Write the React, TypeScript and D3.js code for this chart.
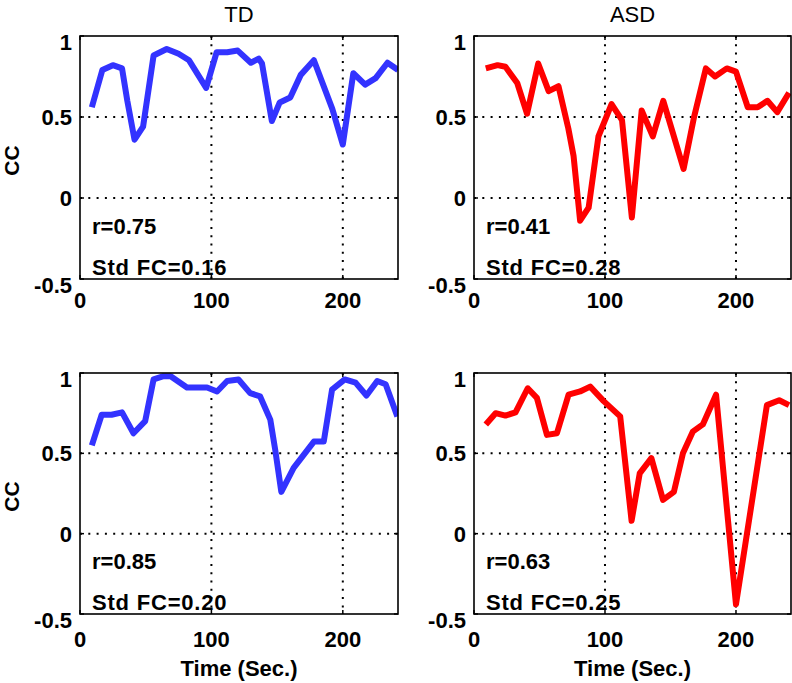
import React from "react";
import * as d3 from "d3";

// ---- data ----
const tdTopTime = [9, 17, 25, 32, 36, 41.5, 48, 56, 66, 75, 83, 96, 104, 112, 120, 130, 136, 138.5, 146, 152, 160, 168, 178, 192, 200, 208, 217, 225, 234, 242];
const tdTopCC = [0.56, 0.79, 0.82, 0.8, 0.6, 0.36, 0.44, 0.88, 0.92, 0.89, 0.85, 0.68, 0.9, 0.9, 0.91, 0.835, 0.86, 0.83, 0.475, 0.59, 0.62, 0.76, 0.85, 0.55, 0.33, 0.77, 0.7, 0.74, 0.835, 0.79];

const asdTopTime = [9, 18, 24, 33, 40.5, 49, 57, 64.5, 72, 76, 81, 87.5, 95, 105, 113, 120.5, 128, 136.5, 144.5, 160, 168, 177, 184, 193, 200, 209, 216.5, 224, 231.5, 240.5];
const asdTopCC = [0.8, 0.82, 0.81, 0.71, 0.52, 0.83, 0.66, 0.69, 0.43, 0.26, -0.14, -0.06, 0.38, 0.58, 0.48, -0.12, 0.54, 0.38, 0.6, 0.18, 0.5, 0.8, 0.75, 0.8, 0.78, 0.56, 0.56, 0.6, 0.53, 0.65];

const tdBottomTime = [9, 16.5, 24, 32, 40.7, 49.6, 56, 63.6, 69, 81.4, 96.7, 104.3, 112, 120.6, 129.5, 137, 144.8, 148.6, 153.2, 162.6, 178, 185.5, 191.8, 201.5, 209.7, 218, 226.2, 232.6, 241.5];
const tdBottomCC = [0.55, 0.74, 0.74, 0.755, 0.625, 0.7, 0.96, 0.98, 0.98, 0.91, 0.91, 0.885, 0.95, 0.96, 0.875, 0.855, 0.71, 0.52, 0.26, 0.41, 0.573, 0.573, 0.896, 0.96, 0.94, 0.86, 0.95, 0.93, 0.73];

const asdBottomTime = [9, 16.5, 24, 31.7, 41, 48, 55.7, 63.3, 72.2, 81, 88.7, 99, 111.6, 120.3, 126.5, 135.4, 144.3, 152.6, 159.5, 167, 174.7, 184.8, 200, 223.6, 233, 240.5];
const asdBottomCC = [0.68, 0.75, 0.735, 0.755, 0.905, 0.845, 0.615, 0.625, 0.865, 0.885, 0.915, 0.825, 0.73, 0.08, 0.375, 0.47, 0.21, 0.26, 0.5, 0.635, 0.68, 0.865, -0.44, 0.8, 0.83, 0.8];

const columnTitles = ["TD", "ASD"];
const rValues = ["r=0.75", "r=0.41", "r=0.85", "r=0.63"];
const stdValues = ["Std FC=0.16", "Std FC=0.28", "Std FC=0.20", "Std FC=0.25"];
const xTicks = [0, 100, 200];
const xTickLabels = ["0", "100", "200"];
const yTicks = [-0.5, 0, 0.5, 1];
const yTickLabels = ["-0.5", "0", "0.5", "1"];
const xGrid = [100, 200];
const yGrid = [0, 0.5];
const xDomain = [0, 242];
const yDomain = [-0.5, 1];
const yLabel = "CC";
const xLabel = "Time (Sec.)";

const BLUE = "#3333ff";
const RED = "#ff0000";
const FONT = "'Liberation Sans', Arial, Helvetica, sans-serif";

const columns = [
  { left: 80, right: 398 },
  { left: 474, right: 791 },
];
const rows = [
  { top: 36, bottom: 279, xLabelOffset: 29 },
  { top: 373, bottom: 614, xLabelOffset: 33 },
];

const panels = [
  { row: 0, col: 0, t: tdTopTime, v: tdTopCC, color: BLUE, r: rValues[0], std: stdValues[0] },
  { row: 0, col: 1, t: asdTopTime, v: asdTopCC, color: RED, r: rValues[1], std: stdValues[1] },
  { row: 1, col: 0, t: tdBottomTime, v: tdBottomCC, color: BLUE, r: rValues[2], std: stdValues[2] },
  { row: 1, col: 1, t: asdBottomTime, v: asdBottomCC, color: RED, r: rValues[3], std: stdValues[3] },
];

function Panel({ p, idx }: { p: any; idx: number }) {
  const c = columns[p.col];
  const rw = rows[p.row];
  const x = d3.scaleLinear().domain(xDomain).range([c.left, c.right]);
  const y = d3.scaleLinear().domain(yDomain).range([rw.bottom, rw.top]);
  const pts = p.t.map((t: number, i: number) => [t, p.v[i]] as [number, number]);
  const line = d3
    .line<[number, number]>()
    .x((d) => x(d[0]))
    .y((d) => y(d[1]));
  const clipId = `clip-${idx}`;
  const tickLen = 4;
  return (
    <g>
      <defs>
        <clipPath id={clipId}>
          <rect x={c.left} y={rw.top} width={c.right - c.left} height={rw.bottom - rw.top} />
        </clipPath>
      </defs>
      {/* grid */}
      {xGrid.map((g) => (
        <line key={"gx" + g} x1={x(g)} x2={x(g)} y1={rw.top} y2={rw.bottom} stroke="#000" strokeWidth={2} strokeDasharray="2 6.3" />
      ))}
      {yGrid.map((g) => (
        <line key={"gy" + g} x1={c.left} x2={c.right} y1={y(g)} y2={y(g)} stroke="#000" strokeWidth={2} strokeDasharray="2 6.3" />
      ))}
      {/* ticks */}
      {xTicks.map((t) => (
        <g key={"xt" + t}>
          <line x1={x(t)} x2={x(t)} y1={rw.bottom} y2={rw.bottom - tickLen} stroke="#000" strokeWidth={1.5} />
          <line x1={x(t)} x2={x(t)} y1={rw.top} y2={rw.top + tickLen} stroke="#000" strokeWidth={1.5} />
        </g>
      ))}
      {yTicks.map((t) => (
        <g key={"yt" + t}>
          <line x1={c.left} x2={c.left + tickLen} y1={y(t)} y2={y(t)} stroke="#000" strokeWidth={1.5} />
          <line x1={c.right} x2={c.right - tickLen} y1={y(t)} y2={y(t)} stroke="#000" strokeWidth={1.5} />
        </g>
      ))}
      {/* data line */}
      <path
        d={line(pts) || ""}
        fill="none"
        stroke={p.color}
        strokeWidth={6}
        strokeLinejoin="round"
        strokeLinecap="butt"
        clipPath={`url(#${clipId})`}
      />
      {/* frame */}
      <rect x={c.left} y={rw.top} width={c.right - c.left} height={rw.bottom - rw.top} fill="none" stroke="#000" strokeWidth={1.6} />
      {/* tick labels */}
      {xTicks.map((t, i) => (
        <text key={"xl" + t} x={x(t)} y={rw.bottom + rw.xLabelOffset} textAnchor="middle" fontSize={22} fontWeight="bold" fontFamily={FONT}>
          {xTickLabels[i]}
        </text>
      ))}
      {yTicks.map((t, i) => {
        const nudge = i === 0 || i === yTicks.length - 1 ? 6 : 0;
        return (
          <text key={"yl" + t} x={c.left - 8} y={y(t) + nudge + 8} textAnchor="end" fontSize={22} fontWeight="bold" fontFamily={FONT}>
            {yTickLabels[i]}
          </text>
        );
      })}
      {/* annotations */}
      <text x={c.left + 12} y={rw.bottom - 45} fontSize={22} fontWeight="bold" fontFamily={FONT}>
        {p.r}
      </text>
      <text x={c.left + 12} y={rw.bottom - 4} fontSize={22} fontWeight="bold" fontFamily={FONT} letterSpacing={0.8}>
        {p.std}
      </text>
      {/* column title (top row) */}
      {p.row === 0 && (
        <text x={(c.left + c.right) / 2} y={22} textAnchor="middle" fontSize={22} fontFamily={FONT}>
          {columnTitles[p.col]}
        </text>
      )}
      {/* y label (left column) */}
      {p.col === 0 && (
        <text
          transform={`translate(19, ${(rw.top + rw.bottom) / 2 + 3}) rotate(-90)`}
          textAnchor="middle"
          fontSize={21}
          fontWeight="bold"
          fontFamily={FONT}
        >
          {yLabel}
        </text>
      )}
      {/* x label (bottom row) */}
      {p.row === 1 && (
        <text x={(c.left + c.right) / 2} y={rw.bottom + 62} textAnchor="middle" fontSize={22} fontWeight="bold" fontFamily={FONT}>
          {xLabel}
        </text>
      )}
    </g>
  );
}

export default function App() {
  return (
    <svg
      width={792}
      height={683}
      style={{ position: "absolute", left: 0, top: 0, background: "#fff" }}
    >
      <rect x={0} y={0} width={792} height={683} fill="#fff" />
      {panels.map((p, i) => (
        <Panel key={i} p={p} idx={i} />
      ))}
    </svg>
  );
}
